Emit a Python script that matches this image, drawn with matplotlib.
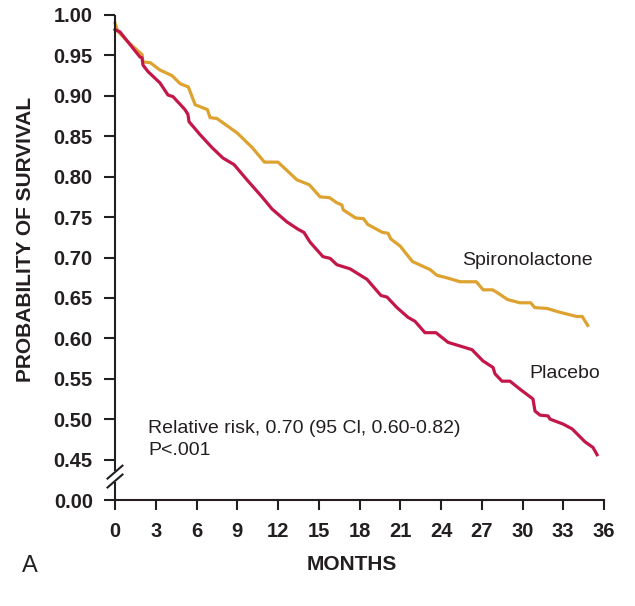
import numpy as np
import matplotlib
matplotlib.use("Agg")
import matplotlib.pyplot as plt

plt.rcParams['font.family'] = ['Liberation Sans', 'DejaVu Sans']

# Kaplan-Meier curves (months, probability of survival)
spiro_months = [0, 0.2, 1.0, 2.0, 2.05, 2.6, 3.3, 4.2, 4.8, 5.4, 5.9, 6.5, 6.8, 7.0, 7.5,
                9.0, 10.1, 11.0, 12.0, 13.4, 14.3, 15.1, 15.8, 16.3, 16.7, 16.8, 17.7,
                18.3, 18.6, 19.7, 20.1, 20.3, 21.0, 21.9, 23.2, 23.7, 24.4, 25.4, 26.6,
                27.1, 27.8, 28.1, 28.9, 29.8, 30.6, 30.9, 31.8, 32.8, 34.0, 34.4, 34.8]
spiro_surv = [0.99, 0.980, 0.966, 0.951, 0.942, 0.941, 0.932, 0.925, 0.915, 0.911, 0.889,
              0.885, 0.883, 0.873, 0.872, 0.854, 0.836, 0.818, 0.818, 0.796, 0.790, 0.775,
              0.774, 0.768, 0.765, 0.759, 0.749, 0.748, 0.741, 0.731, 0.730, 0.723, 0.714,
              0.695, 0.685, 0.678, 0.675, 0.670, 0.670, 0.660, 0.660, 0.657, 0.648, 0.644,
              0.644, 0.638, 0.637, 0.632, 0.627, 0.627, 0.616]

placebo_months = [0, 0.37, 1.84, 1.99, 2.06, 2.43, 3.31, 3.9, 4.27, 5.15, 5.37, 5.45, 6.26,
                  7.14, 7.95, 8.76, 9.72, 10.82, 11.56, 12.66, 13.47, 13.91, 14.36, 15.31,
                  15.83, 16.34, 17.3, 18.55, 19.58, 20.03, 20.76, 21.57, 22.09, 22.82, 23.63,
                  24.52, 26.28, 27.09, 27.83, 27.98, 28.49, 29.08, 29.82, 30.77, 30.92, 31.29,
                  31.88, 32.03, 32.98, 33.65, 34.6, 35.19, 35.49]
placebo_surv = [0.982, 0.979, 0.948, 0.947, 0.938, 0.930, 0.916, 0.901, 0.899, 0.883, 0.877,
                0.868, 0.852, 0.836, 0.823, 0.815, 0.796, 0.775, 0.760, 0.744, 0.735, 0.731,
                0.719, 0.701, 0.699, 0.691, 0.686, 0.673, 0.653, 0.651, 0.638, 0.626, 0.621,
                0.607, 0.607, 0.595, 0.586, 0.572, 0.564, 0.556, 0.547, 0.547, 0.537, 0.525,
                0.510, 0.505, 0.504, 0.500, 0.494, 0.488, 0.472, 0.465, 0.456]

x_ticks = list(range(0, 37, 3))
y_ticks = [0.40, 0.45, 0.50, 0.55, 0.60, 0.65, 0.70, 0.75, 0.80, 0.85, 0.90, 0.95, 1.00]
y_ticklabels = ['0.00', '0.45', '0.50', '0.55', '0.60', '0.65', '0.70', '0.75', '0.80',
                '0.85', '0.90', '0.95', '1.00']

GOLD = '#DDA22F'
RED = '#C3174A'
INK = '#231F20'

fig = plt.figure(figsize=(6.35, 6.06), dpi=100)
ax = fig.add_axes([115 / 635, 106 / 606, 489 / 635, 485 / 606])

ax.plot(spiro_months, spiro_surv, color=GOLD, lw=2.3, solid_joinstyle='round', clip_on=False)
ax.plot(placebo_months, placebo_surv, color=RED, lw=2.3, solid_joinstyle='round', clip_on=False)

ax.set_xlim(0, 36)
ax.set_ylim(0.40, 1.00)
ax.set_xticks(x_ticks)
ax.set_yticks(y_ticks)
ax.set_yticklabels(y_ticklabels)

for s in ['top', 'right', 'left']:
    ax.spines[s].set_visible(False)
ax.spines['bottom'].set_linewidth(1.5)
ax.spines['bottom'].set_color(INK)

# left axis with a break between 0.00 and 0.45
ax.plot([0, 0], [0.40, 0.4225], color=INK, lw=1.5, clip_on=False, solid_capstyle='butt')
ax.plot([0, 0], [0.4355, 1.00], color=INK, lw=1.5, clip_on=False, solid_capstyle='butt')
for yc in [0.4345, 0.4235]:
    ax.plot([-0.55, 0.55], [yc - 0.008, yc + 0.008], color=INK, lw=1.5, clip_on=False)

ax.tick_params(axis='y', direction='out', length=8, width=1.5, color=INK, pad=8,
               labelsize=14.5, labelcolor=INK)
ax.tick_params(axis='x', direction='out', length=7, width=1.5, color=INK, pad=9,
               labelsize=14.5, labelcolor=INK)
for lab in ax.get_xticklabels() + ax.get_yticklabels():
    lab.set_fontweight('bold')

ax.text(2.43, 0.483, 'Relative risk, 0.70 (95 Cl, 0.60-0.82)', fontsize=14, color=INK,
        va='baseline')
ax.text(2.43, 0.4556, 'P<.001', fontsize=14, color=INK, va='baseline')
ax.text(25.55, 0.691, 'Spironolactone', fontsize=14, color=INK, va='baseline')
ax.text(30.48, 0.5506, 'Placebo', fontsize=14, color=INK, va='baseline')

fig.text(26 / 635, 1 - 239 / 606, 'PROBABILITY OF SURVIVAL', rotation=90, ha='center',
         va='center', fontsize=15, fontweight='bold', color=INK)
fig.text(351.5 / 635, 1 - 565 / 606, 'MONTHS', ha='center', va='center', fontsize=15,
         fontweight='bold', color=INK)
fig.text(22 / 635, 1 - 572 / 606, 'A', ha='left', va='baseline', fontsize=17, color=INK)

fig.savefig('out.png', dpi=100)
